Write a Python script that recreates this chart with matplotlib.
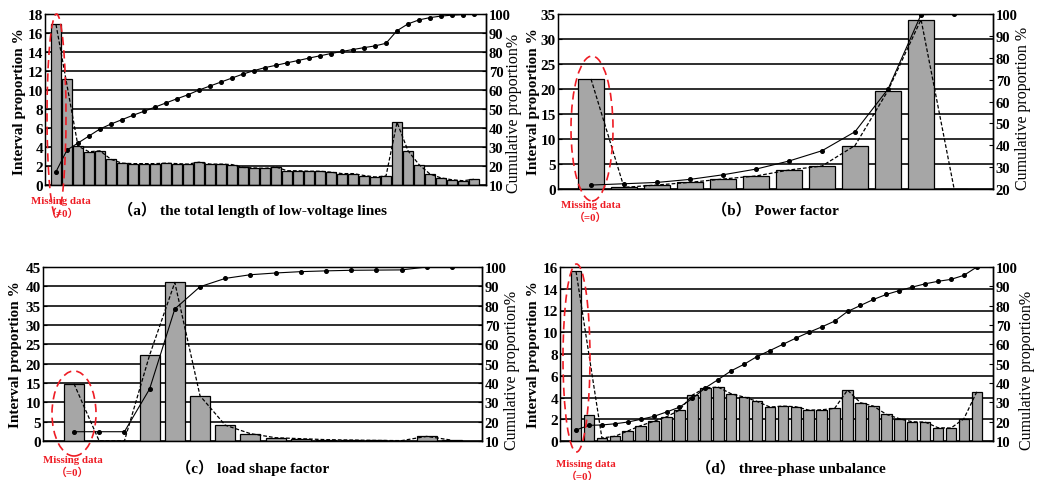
import numpy as np
import matplotlib
matplotlib.use("Agg")
import matplotlib.pyplot as plt
from matplotlib.patches import Ellipse

plt.rcParams['font.family'] = ['Liberation Serif', 'Noto Sans CJK SC', 'DejaVu Sans']
plt.rcParams['font.weight'] = 'bold'

# ---------------- data ----------------
bars_a = [16.9, 11.2, 4.1, 3.5, 3.6, 2.7, 2.3, 2.25, 2.25, 2.25,
          2.3, 2.25, 2.2, 2.4, 2.2, 2.2, 2.15, 1.85, 1.8, 1.75,
          1.9, 1.5, 1.5, 1.45, 1.45, 1.35, 1.2, 1.2, 1.0, 0.85,
          0.95, 6.6, 3.6, 2.15, 1.15, 0.75, 0.55, 0.45, 0.6]
cum_a = [17.0, 28.4, 32.1, 35.8, 39.5, 42.1, 44.4, 46.7, 48.8, 51.0,
         53.2, 55.4, 57.5, 60.0, 62.1, 64.2, 66.3, 68.4, 70.2, 71.8,
         73.0, 74.3, 75.5, 76.8, 78.0, 79.2, 80.3, 81.3, 82.3, 83.2,
         84.6, 91.2, 94.8, 96.9, 98.1, 98.9, 99.4, 99.7, 100.0]

bars_b = [22.0, 0.33, 0.8, 1.33, 2.0, 2.6, 3.8, 4.6, 8.7, 19.7, 33.9, 0.1]
cum_b = [21.8, 22.4, 23.0, 24.4, 26.5, 29.1, 32.8, 37.5, 46.2, 65.7, 99.7, 100.0]

bars_c = [14.8, 0.0, 0.0, 22.2, 41.0, 11.7, 4.1, 1.9, 0.85, 0.6,
          0.35, 0.25, 0.15, 0.1, 1.2, 0.2]
cum_c = [14.8, 14.8, 14.8, 36.9, 78.3, 89.8, 94.1, 96.0, 96.9, 97.6,
         98.0, 98.3, 98.4, 98.5, 100.0, 100.0]

bars_d = [15.6, 2.35, 0.28, 0.43, 0.92, 1.41, 1.80, 2.23, 2.84, 4.22,
          4.89, 4.95, 4.34, 4.04, 3.64, 3.12, 3.21, 3.15, 2.84, 2.87,
          3.0, 4.68, 3.52, 3.21, 2.45, 2.05, 1.77, 1.74, 1.22, 1.19,
          2.05, 4.53]
cum_d = [15.7, 18.1, 18.3, 18.9, 19.8, 21.2, 22.7, 25.0, 27.5, 32.0,
         37.5, 41.8, 46.3, 49.7, 53.7, 56.8, 60.0, 63.2, 66.2, 69.0,
         72.0, 77.0, 80.1, 83.2, 85.8, 87.8, 89.6, 91.3, 92.6, 93.6,
         95.7, 100.0]

titles = ["（a） the total length of low-voltage lines",
          "（b） Power factor",
          "（c） load shape factor",
          "（d） three-phase unbalance"]
left_label = "Interval proportion %"
right_labels = ["Cumulative proportion%", "Cumulative proportion %",
                "Cumulative proportion%", "Cumulative proportion%"]
missing_text = "Missing data"
missing_eq = "（=0）"

# ---------------- layout ----------------
W, H = 1043, 481
fig = plt.figure(figsize=(W / 100, H / 100), dpi=100)

def fx(x):
    return x / W

def fy(y):
    return 1 - y / H

panels = [
    dict(bars=bars_a, cum=cum_a, box=(45, 15, 486, 186), xlim=(-1.0, 39.09), width=0.88,
         lylim=(0, 18), lstep=2, rylim=(10, 100), skip=[1],
         ell=(56.5, 116.5, 19, 203), miss=(61, 202, 63, 214), title=(252, 210),
         ylab=(20, 102), rlab=(514, 113)),
    dict(bars=bars_b, cum=cum_b, box=(558, 15, 993, 190), xlim=(-1.0, 12.18), width=0.79,
         lylim=(0, 35), lstep=5, rylim=(20, 100), skip=[],
         ell=(592, 129.5, 42, 145), miss=(591, 206, 591, 218), title=(775, 210),
         ylab=(533, 102), rlab=(1023, 108)),
    dict(bars=bars_c, cum=cum_c, box=(43, 268, 482, 442), xlim=(-1.23, 16.19), width=0.79,
         lylim=(0, 45), lstep=5, rylim=(10, 100), skip=[],
         ell=(74, 414.5, 44, 85), miss=(73, 461, 73, 473), title=(253, 468),
         ylab=(16, 355), rlab=(512, 370)),
    dict(bars=bars_d, cum=cum_d, box=(560, 268, 993, 442), xlim=(-1.24, 32.25), width=0.82,
         lylim=(0, 16), lstep=2, rylim=(10, 100), skip=[1],
         ell=(576.5, 359, 27, 188), miss=(586, 465, 583, 477), title=(791, 468),
         ylab=(534, 355), rlab=(1027, 370)),
]

red = '#ee1c24'

for i, p in enumerate(panels):
    l, t, r, b = p['box']
    ax = fig.add_axes([fx(l), fy(b), (r - l) / W, (b - t) / H])
    vals = np.array(p['bars'])
    x = np.arange(len(vals))
    ax.set_axisbelow(True)
    ax.bar(x, vals, width=p['width'], color='#a6a6a6', edgecolor='black', linewidth=0.9, zorder=2)
    keep = np.array([k for k in x if k not in p['skip']])
    ax.plot(keep, vals[keep], color='black', linestyle=(0, (3, 1.6)), linewidth=0.9, zorder=3)
    ax.set_xlim(*p['xlim'])
    ax.set_ylim(*p['lylim'])
    ax.set_yticks(np.arange(p['lylim'][0], p['lylim'][1] + 0.01, p['lstep']))
    ax.grid(axis='y', color='black', linewidth=1.15)
    ax.set_xticks([])
    ax.tick_params(axis='y', labelsize=11, length=3, direction='in', pad=1.5)
    for lab in ax.get_yticklabels():
        lab.set_fontweight('bold')
    for s in ['left', 'bottom', 'right', 'top']:
        ax.spines[s].set_linewidth(1.0)
        ax.spines[s].set_color('black')

    ax2 = ax.twinx()
    ax2.set_ylim(*p['rylim'])
    ax2.set_yticks(np.arange(p['rylim'][0], p['rylim'][1] + 0.01, 10))
    ax2.plot(x, p['cum'], color='black', linewidth=0.8, marker='o', markersize=2.6, zorder=4)
    ax2.tick_params(axis='y', labelsize=10.5, length=3, direction='in', pad=2)
    for lab in ax2.get_yticklabels():
        lab.set_fontweight('bold')
    ax2.spines['right'].set_linewidth(1.0)

    # axis labels
    yx, yy = p['ylab']
    fig.text(fx(yx), fy(yy), left_label, rotation=90, ha='center', va='center',
             fontsize=11, fontweight='bold')
    rx, ry = p['rlab']
    fig.text(fx(rx), fy(ry), right_labels[i], rotation=90, ha='center', va='center',
             fontsize=11.5, fontweight='normal')

    # missing data annotation
    ex, ey, ew, eh = p['ell']
    e = Ellipse((fx(ex), fy(ey)), ew / W, eh / H, transform=fig.transFigure,
                fill=False, edgecolor=red, linewidth=1.2, linestyle=(0, (5, 3)), zorder=10)
    fig.add_artist(e)
    mx1, my1, mx2, my2 = p['miss']
    fig.text(fx(mx1), fy(my1), missing_text, color=red, fontsize=7.8, fontweight='bold',
             ha='center', va='center')
    fig.text(fx(mx2), fy(my2), missing_eq, color=red, fontsize=7.8, fontweight='bold',
             ha='center', va='center')

    tx, ty = p['title']
    fig.text(fx(tx), fy(ty), titles[i], fontsize=11, fontweight='bold', ha='center', va='center')

fig.savefig("out.png", dpi=100)
